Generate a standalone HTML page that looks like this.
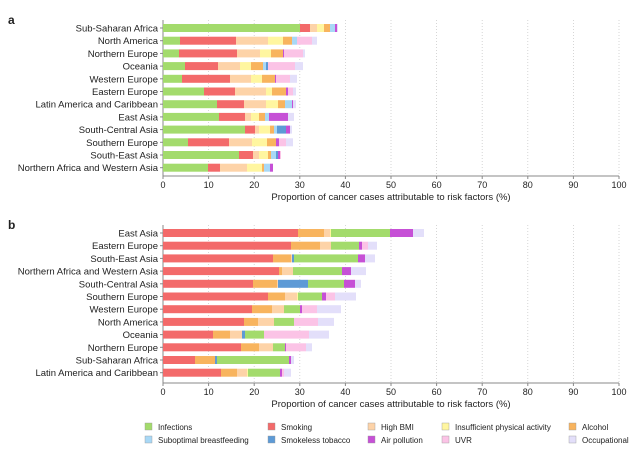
<!DOCTYPE html>
<html><head><meta charset="utf-8">
<style>
body{margin:0;background:#fff;width:638px;height:449px;overflow:hidden;font-family:"Liberation Sans",sans-serif}
svg text{font-family:"Liberation Sans",sans-serif;fill:#222}
</style></head><body>
<svg id="s" width="638" height="449" xmlns="http://www.w3.org/2000/svg"></svg>
<script>
const C={g:'#a3db6c',r:'#f36a6a',p:'#fdd3a8',y:'#fff6a0',o:'#f8b45e',lb:'#a8d8f6',b:'#5d9ad6',u:'#c650d6',k:'#fbc3e6',l:'#e3dffa'};
const A=[
["Sub-Saharan Africa",[['g',300],['r',310],['p',317],['y',324],['o',330],['lb',335],['u',337],['l',338]]],
["North America",[['g',180],['r',236],['p',268],['y',283],['o',292],['lb',297],['k',312],['l',317]]],
["Northern Europe",[['g',179],['r',237],['p',260],['y',271],['o',283],['u',284],['k',303],['l',305]]],
["Oceania",[['g',185],['r',218],['p',240],['y',251],['o',263],['lb',266],['b',268],['k',295],['l',303]]],
["Western Europe",[['g',182],['r',230],['p',251],['y',262],['o',275],['u',276],['k',290],['l',297]]],
["Eastern Europe",[['g',204],['r',235],['p',266],['y',272],['o',286],['u',288],['k',293],['l',296]]],
["Latin America and Caribbean",[['g',217],['r',244],['p',266],['y',278],['o',285],['lb',292],['u',293],['l',296]]],
["East Asia",[['g',219],['r',245],['p',251],['y',259],['o',265],['lb',269],['u',288],['l',294]]],
["South-Central Asia",[['g',245],['r',255],['p',259],['y',270],['o',274],['lb',277],['b',286],['u',290],['l',292]]],
["Southern Europe",[['g',188],['r',229],['p',252],['y',267],['o',276],['u',279],['k',286],['l',293]]],
["South-East Asia",[['g',239],['r',253],['p',259],['y',268],['o',271],['lb',276],['b',278],['u',280],['k',281]]],
["Northern Africa and Western Asia",[['g',208],['r',220],['p',247],['y',262],['o',264],['lb',270],['u',273]]]];
const B=[
["East Asia",[['r',298],['o',324],['p',330],['y',331],['g',390],['u',413],['l',424]]],
["Eastern Europe",[['r',291],['o',320],['p',331],['g',359],['u',362],['k',368],['l',377]]],
["South-East Asia",[['r',273],['o',291],['p',292],['b',294],['g',358],['u',365],['l',375]]],
["Northern Africa and Western Asia",[['r',279],['o',282],['p',293],['g',342],['u',351],['l',366]]],
["South-Central Asia",[['r',253],['o',277],['p',278],['b',308],['g',344],['u',355],['l',361]]],
["Southern Europe",[['r',268],['o',285],['p',297],['y',298],['g',322],['u',326],['k',335],['l',356]]],
["Western Europe",[['r',252],['o',272],['p',284],['g',300],['u',302],['k',317],['l',341]]],
["North America",[['r',244],['o',258],['p',274],['g',294],['k',318],['l',334]]],
["Oceania",[['r',213],['o',230],['p',242],['b',245],['g',264],['k',309],['l',329]]],
["Northern Europe",[['r',241],['o',259],['p',273],['g',285],['u',286],['k',306],['l',312]]],
["Sub-Saharan Africa",[['r',195],['o',215],['b',217],['g',289],['u',291],['l',294]]],
["Latin America and Caribbean",[['r',221],['o',237],['p',247],['y',248],['g',280],['u',282],['k',284],['l',291]]]];
let h='';
const X0=163,S=4.56;
function panel(data,y0,axisY,lab,ly){
 for(let i=0;i<=10;i++){const x=X0+i*10*S;
  if(i>0)h+=`<line x1="${x}" y1="${y0-8}" x2="${x}" y2="${axisY}" stroke="#ccc" stroke-dasharray="1,2" stroke-width="0.8"/>`;
  h+=`<line x1="${x}" y1="${axisY}" x2="${x}" y2="${axisY+3}" stroke="#888"/>`;
  h+=`<text x="${x}" y="${axisY+12}" font-size="9" text-anchor="middle">${i*10}</text>`;}
 h+=`<line x1="${X0}" y1="${axisY}" x2="619" y2="${axisY}" stroke="#888"/>`;
 h+=`<line x1="${X0}" y1="${y0-8}" x2="${X0}" y2="${axisY}" stroke="#888"/>`;
 data.forEach((d,i)=>{const yc=y0+i*12.7;
  h+=`<line x1="${X0-3}" y1="${yc}" x2="${X0}" y2="${yc}" stroke="#888"/>`;
  h+=`<text x="${X0-5}" y="${yc+3.5}" font-size="9.5" text-anchor="end">${d[0]}</text>`;
  let px=X0;d[1].forEach(s=>{h+=`<rect x="${px}" y="${yc-4}" width="${s[1]-px}" height="8" fill="${C[s[0]]}"/>`;px=s[1];});});
 h+=`<text x="391" y="${ly}" font-size="9.5" text-anchor="middle">Proportion of cancer cases attributable to risk factors (%)</text>`;
 h+=`<text x="8" y="${y0-4}" font-size="12" font-weight="bold">${lab}</text>`;
}
panel(A,28,176,'a',200);
panel(B,233,383,'b',407);
const L=[[145,427,'g','Infections'],[268,427,'r','Smoking'],[368,427,'p','High BMI'],[442,427,'y','Insufficient physical activity'],[569,427,'o','Alcohol'],
[145,440,'lb','Suboptimal breastfeeding'],[268,440,'b','Smokeless tobacco'],[368,440,'u','Air pollution'],[442,440,'k','UVR'],[569,440,'l','Occupational']];
L.forEach(l=>{h+=`<rect x="${l[0]}" y="${l[1]-4}" width="7" height="7" fill="${C[l[2]]}" stroke="#999" stroke-width="0.4"/><text x="${l[0]+13}" y="${l[1]+3}" font-size="8">${l[3]}</text>`;});
document.getElementById('s').innerHTML=h;
</script>
</body></html>
